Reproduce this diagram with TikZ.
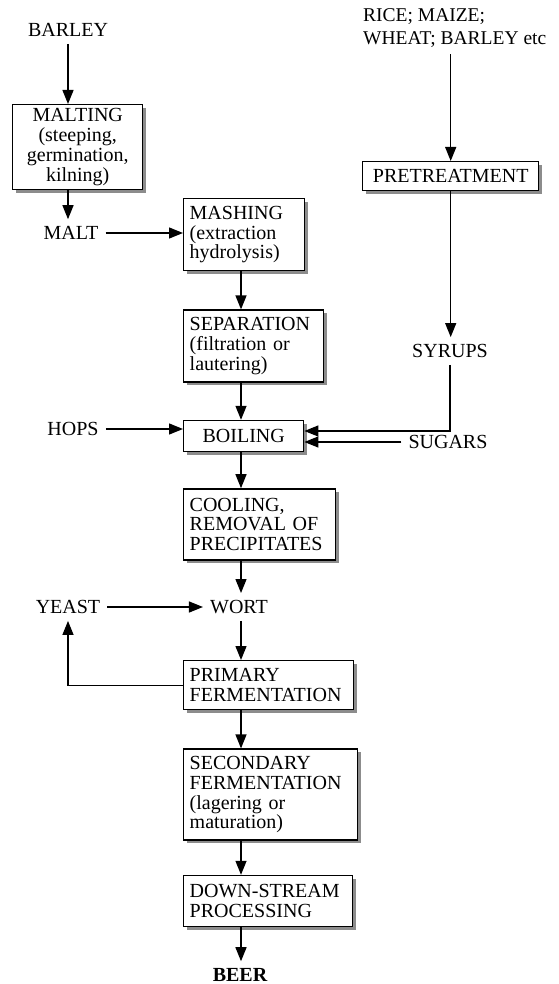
\documentclass[tikz,border=0pt]{standalone}
\usepackage{fontspec}
\setmainfont{Liberation Serif}
\usepackage{tikz}
\usetikzlibrary {arrows.meta,
                 positioning,
                 shadows}
\newcommand{\flowfont}{\fontsize{20}{19.8}\selectfont}
\tikzset{
        base/.style={draw, fill=white, line width=1.4pt, inner xsep=6pt,
                     inner ysep=2pt, font=\flowfont},
        proc/.style={base, rectangle, align=left, anchor=north west,
                     drop shadow={shadow xshift=3pt, shadow yshift=-3pt,
                                  fill=black!45, opacity=1}},
        lbl/.style={inner sep=7pt, font=\flowfont},
        myarrow/.style={-{Stealth[length=14pt, width=11pt, inset=0pt]},
                        line width=1.3pt},
 }

\begin{document}
\begin{tikzpicture}[x=1pt, y=-1pt]
    \useasboundingbox (0,0) rectangle (558,984);
    \coordinate (spine) at (241,0);

    % barley side
    \node[lbl] (barley) at (68,30) {BARLEY};
    \node[proc, align=center, text width=118pt, minimum height=85pt] (malting) at (12,104) {MALTING\\(steeping,\\germination,\\kilning)};
    \node[lbl] (malt) at (71,233) {MALT};

    % adjuncts
    \node[lbl, align=left, anchor=north west, font=\fontsize{19.5}{23}\selectfont] (cereals) at (356,1) {RICE; MAIZE;\\WHEAT; BARLEY etc};
    \node[proc, align=center, text width=164pt, minimum height=29pt] (pretreat) at (362,161) {PRETREATMENT};
    \node[lbl] (syrups) at (450,351) {SYRUPS};
    \node[lbl] (sugars) at (448,442) {SUGARS};
    \node[lbl] (hops) at (73,429) {HOPS};

    % main line
    \node[proc, text width=109pt, minimum height=72pt] (mashing) at (183,198) {MASHING\\(extraction\\hydrolysis)};
    \node[proc, text width=128pt, minimum height=72pt, below=38pt of mashing.south west, anchor=north west] (separation) {SEPARATION\\(filtration or\\lautering)};
    \node[proc, align=center, text width=108pt, minimum height=31pt, below=37pt of separation.south west, anchor=north west] (boiling) {BOILING};
    \node[proc, text width=140pt, minimum height=71pt, below=36pt of boiling.south west, anchor=north west] (cooling) {COOLING,\\REMOVAL OF\\PRECIPITATES};
    \node[lbl] (wort) at (239,607) {WORT};
    \node[lbl] (yeast) at (68,607) {YEAST};
    \node[proc, text width=158pt, minimum height=49pt] (primary) at (183,660) {PRIMARY\\FERMENTATION};
    \node[proc, text width=162pt, minimum height=91pt, below=38pt of primary.south west, anchor=north west] (secondary) {SECONDARY\\FERMENTATION\\(lagering or\\maturation)};
    \node[proc, text width=157pt, minimum height=51pt, below=34pt of secondary.south west, anchor=north west] (downstream) {DOWN-STREAM\\PROCESSING};
    \node[lbl, font=\flowfont\bfseries] (beer) at (240,975) {BEER};

    \draw[myarrow] (barley.south) -- (barley.south |- malting.north);
    \draw[myarrow] (malting.south -| barley) -- (malt.north -| barley);
    \draw[myarrow] (malt.east) -- (malt.east -| mashing.west);

    \draw[myarrow] (cereals.south -| pretreat.north) -- (pretreat.north);
    \draw[myarrow] (pretreat.south) -- (syrups.north -| pretreat.south);
    \draw[myarrow] (syrups.south) |- ([yshift=5pt]boiling.east);
    \draw[myarrow] (sugars.west) -- (sugars.west -| boiling.east);
    \draw[myarrow] (hops.east) -- (hops.east -| boiling.west);

    \draw[myarrow] (mashing.south -| spine) -- (separation.north -| spine);
    \draw[myarrow] (separation.south -| spine) -- (boiling.north -| spine);
    \draw[myarrow] (boiling.south -| spine) -- (cooling.north -| spine);
    \draw[myarrow] (cooling.south -| spine) -- (wort.north -| spine);
    \draw[myarrow] (yeast.east) -- (wort.west);
    \draw[myarrow] (wort.south -| spine) -- (primary.north -| spine);
    \draw[myarrow] (primary.west) -| (yeast.south);
    \draw[myarrow] (primary.south -| spine) -- (secondary.north -| spine);
    \draw[myarrow] (secondary.south -| spine) -- (downstream.north -| spine);
    \draw[myarrow] (downstream.south -| spine) -- (beer.north -| spine);
\end{tikzpicture}
\end{document}
